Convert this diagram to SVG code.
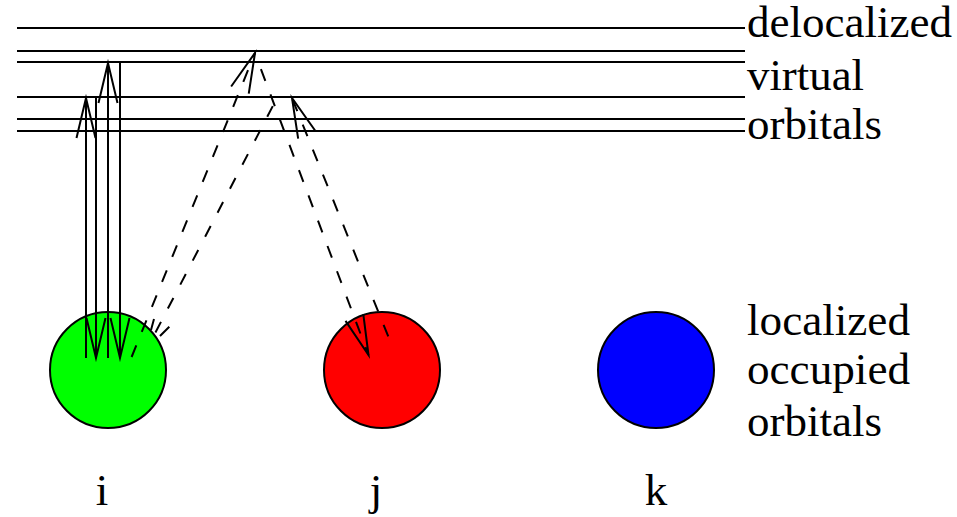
<svg xmlns="http://www.w3.org/2000/svg" width="957" height="517" viewBox="0 0 957 517">
<style>
.lvl{stroke:#000;stroke-width:2;fill:none}
.sh{stroke:#000;stroke-width:2;fill:none}
.da{stroke:#000;stroke-width:2;fill:none;stroke-dasharray:12.5 14.5}
.orb{stroke:#000;stroke-width:2}
.hd{stroke:#000;stroke-width:2;fill:none;stroke-dasharray:none;stroke-linejoin:miter;stroke-miterlimit:10}
.t{font-family:'Liberation Serif','Tinos','Times New Roman','Times','Nimbus Roman','DejaVu Serif',serif;font-size:45px;fill:#000}
</style>
<defs>
<marker id="ah" markerUnits="userSpaceOnUse" orient="auto" refX="0" refY="0" markerWidth="50" markerHeight="30" viewBox="-45 -15 50 30" overflow="visible">
<path class="hd" d="M-40,-9.5 L0,0 L-40,9.5"/>
</marker>
</defs>
<g id="levels">
<line class="lvl" x1="17" y1="28" x2="745" y2="28"/>
<line class="lvl" x1="17" y1="51" x2="745" y2="51"/>
<line class="lvl" x1="17" y1="62" x2="745" y2="62"/>
<line class="lvl" x1="17" y1="97" x2="745" y2="97"/>
<line class="lvl" x1="17" y1="119" x2="745" y2="119"/>
<line class="lvl" x1="17" y1="131" x2="745" y2="131"/>
</g>
<g id="node-i">
<circle class="orb" cx="108" cy="370" r="58" fill="#00ff00"/>
<text class="t" x="102" y="505" text-anchor="middle">i</text>
</g>
<g id="node-j">
<circle class="orb" cx="382" cy="370" r="58" fill="#ff0000"/>
<text class="t" x="376" y="505" text-anchor="middle">j</text>
</g>
<g id="node-k">
<circle class="orb" cx="656" cy="370" r="58" fill="#0000ff"/>
<text class="t" x="656" y="505" text-anchor="middle">k</text>
</g>
<g id="labels">
<text class="t" x="747" y="37" textLength="205" lengthAdjust="spacingAndGlyphs">delocalized</text>
<text class="t" x="747" y="90" textLength="117" lengthAdjust="spacingAndGlyphs">virtual</text>
<text class="t" x="747" y="139" textLength="135" lengthAdjust="spacingAndGlyphs">orbitals</text>
<text class="t" x="747" y="335" textLength="163" lengthAdjust="spacingAndGlyphs">localized</text>
<text class="t" x="747" y="384" textLength="163" lengthAdjust="spacingAndGlyphs">occupied</text>
<text class="t" x="747" y="436" textLength="135" lengthAdjust="spacingAndGlyphs">orbitals</text>
</g>
<g id="connectors">
<path class="sh" d="M86,358 V98" marker-end="url(#ah)"/>
<path class="sh" d="M96,97 V358" marker-end="url(#ah)"/>
<path class="sh" d="M108,358 V63" marker-end="url(#ah)"/>
<path class="sh" d="M120,62 V358" marker-end="url(#ah)"/>
<path class="da" d="M131.6,357 L255,53" marker-end="url(#ah)"/>
<path class="da" style="stroke-dashoffset:13" d="M256,56 L368.5,355" marker-end="url(#ah)"/>
<path class="da" style="stroke-dashoffset:21" d="M390.5,342 L292,98" marker-end="url(#ah)"/>
<path class="da" style="stroke-dasharray:12 15;stroke-dashoffset:-10.3" d="M277.5,97 L149,345"/>
<path class="sh" d="M151,330 L154,319 M160,336 L169.3,326.7"/>
</g>
</svg>
